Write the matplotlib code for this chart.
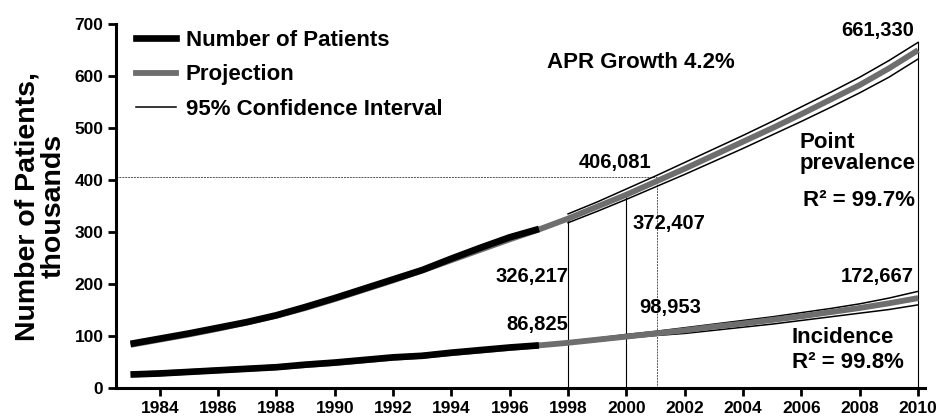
import matplotlib
matplotlib.use("Agg")
import matplotlib.pyplot as plt
from matplotlib.lines import Line2D

plt.rcParams["font.family"] = ["Liberation Sans", "DejaVu Sans"]
plt.rcParams["font.weight"] = "bold"
plt.rcParams["xtick.labelsize"] = 12.5
plt.rcParams["ytick.labelsize"] = 12.5

# observed data (thousands)
years_obs = list(range(1983, 1998))
prev_obs = [85, 95, 105, 116, 127, 140, 156, 173, 191, 209, 227, 249, 270, 290, 306]
inc_obs = [26, 28, 31, 34, 37, 40, 45, 49, 54, 59, 62, 68, 73, 78, 82]

# projection (fitted model)
years_proj = list(range(1983, 2011))
prev_proj = [83, 93, 103, 114, 126, 139, 154, 171, 189, 207, 226, 246, 266, 286, 305,
             326, 349, 372, 397, 422, 448, 474, 500, 527, 555, 583, 615, 650]
inc_proj = [26, 28, 31, 34, 37, 40, 44, 48, 53, 58, 62, 67, 72, 77, 82,
            87, 93, 99, 105, 111, 118, 124, 131, 138, 146, 154, 163, 173]

# 95% confidence interval, 1998-2010
years_ci = list(range(1998, 2011))
prev_hi = [335, 358, 383, 408, 434, 460, 486, 513, 541, 569, 598, 630, 665]
prev_lo = [318, 340, 363, 387, 411, 436, 461, 487, 513, 540, 568, 598, 633]
inc_hi = [90, 96, 103, 109, 116, 123, 130, 137, 145, 153, 162, 173, 186]
inc_lo = [85, 90, 96, 101, 105, 111, 117, 123, 130, 137, 144, 151, 160]

fig = plt.figure(figsize=(9.39, 4.17), dpi=100)
ax = fig.add_axes([0.1235, 0.0695, 0.862, 0.8725])

GRAY = "#6e6e6e"

# reference lines
ax.plot([1982.5, 2001.05], [406, 406], color="#555555", lw=0.7, ls=(0, (2, 1)))
ax.plot([2001.05, 2001.05], [0, 396], color="#555555", lw=0.7, ls=(0, (2, 1)))
ax.plot([1998, 1998], [0, 322], color="black", lw=0.8)
ax.plot([2000, 2000], [0, 375], color="black", lw=0.8)
ax.plot([2010, 2010], [0, 665], color="black", lw=0.8)

for hi, lo in [(prev_hi, prev_lo), (inc_hi, inc_lo)]:
    ax.plot(years_ci, hi, color="black", lw=1.1)
    ax.plot(years_ci, lo, color="black", lw=1.1)

ax.plot(years_proj, prev_proj, color=GRAY, lw=4.2, solid_capstyle="butt")
ax.plot(years_proj, inc_proj, color=GRAY, lw=4.2, solid_capstyle="butt")
ax.plot(years_obs, prev_obs, color="black", lw=4.8, solid_capstyle="butt")
ax.plot(years_obs, inc_obs, color="black", lw=4.8, solid_capstyle="butt")

ax.set_xlim(1982.5, 2010.25)
ax.set_ylim(0, 700)
ax.set_xticks(range(1984, 2011, 2))
ax.set_yticks(range(0, 701, 100))
ax.tick_params(axis="both", direction="out", length=6, width=2, pad=3)
for s in ["top", "right"]:
    ax.spines[s].set_visible(False)
for s in ["left", "bottom"]:
    ax.spines[s].set_linewidth(2.2)

ax.set_ylabel("Number of Patients,\nthousands", fontsize=20.5, fontweight="bold", labelpad=6,
              linespacing=1.0)

num = dict(fontsize=14.5, fontweight="bold")
big = dict(fontsize=16, fontweight="bold")
ax.text(1998, 215, "326,217", ha="right", va="center", **num)
ax.text(1998, 123, "86,825", ha="right", va="center", **num)
ax.text(2000.2, 317, "372,407", ha="left", va="center", **num)
ax.text(1999.6, 433, "406,081", ha="center", va="center", **num)
ax.text(2001.5, 154, "98,953", ha="center", va="center", **num)
ax.text(2009.85, 688, "661,330", ha="right", va="center", **num)
ax.text(2009.85, 215, "172,667", ha="right", va="center", **num)
ax.text(2000.5, 627, "APR Growth 4.2%", ha="center", va="center", **big)
ax.text(2005.95, 452, "Point\nprevalence", ha="left", va="center", linespacing=1.05, **big)
ax.text(2009.9, 361, "R² = 99.7%", ha="right", va="center", **big)
ax.text(2007.4, 98, "Incidence", ha="center", va="center", **big)
ax.text(2007.6, 50, "R² = 99.8%", ha="center", va="center", **big)

handles = [Line2D([], [], color="black", lw=4.8),
           Line2D([], [], color=GRAY, lw=4.2),
           Line2D([], [], color="black", lw=1.1)]
labels = ["Number of Patients", "Projection", "95% Confidence Interval"]
ax.legend(handles, labels, loc="upper left", bbox_to_anchor=(0.0, 1.04), frameon=False,
          prop={"size": 16, "weight": "bold"}, handlelength=1.8, handletextpad=0.45,
          labelspacing=0.62)

fig.savefig("out.png", dpi=100)
